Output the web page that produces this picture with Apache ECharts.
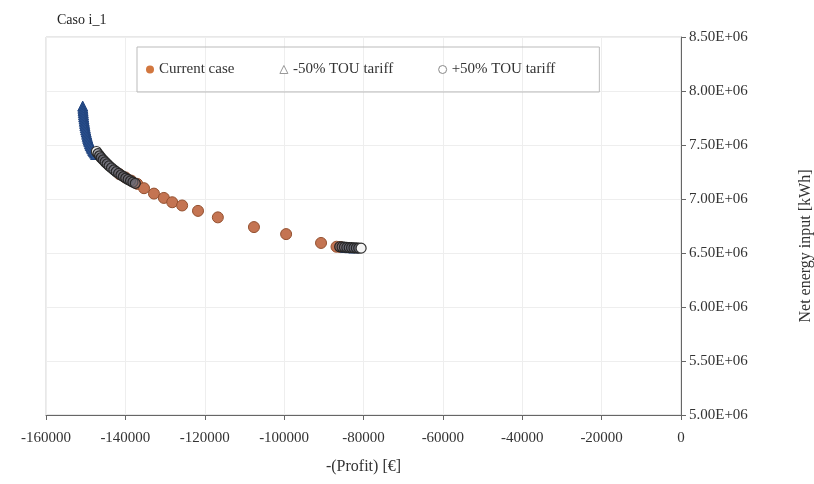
<!DOCTYPE html>
<html>
<head>
<meta charset="utf-8">
<script src="https://cdn.jsdelivr.net/npm/echarts@6/dist/echarts.min.js"></script>
<style>html,body{margin:0;padding:0;background:#fff;}#c{width:814px;height:484px;}</style>
</head>
<body>
<div id="c"></div>
<script>
// x: -(Profit) [€], y: Net energy input [kWh]
var currentX = [-141500, -140000, -138500, -137000, -135300, -132800, -130300, -128200, -125700, -121700, -116700, -107600, -99500, -90700, -86800, -85800];
var currentY = [7230000, 7200000, 7170000, 7140000, 7100000, 7050000, 7010000, 6970000, 6940000, 6890000, 6830000, 6740000, 6675000, 6593000, 6558000, 6555000];

var minus50X = [-150750, -150700, -150650, -150600, -150550, -150500, -150420, -150350, -150270, -150200, -150100, -150000, -149880, -149750, -149620, -149500, -149350, -149200, -149020, -148850, -148650, -148450, -148220, -148000, -147750, -147500, -84500, -83500, -82500];
var minus50Y = [7860000, 7840000, 7820000, 7800000, 7780000, 7760000, 7740000, 7720000, 7700000, 7680000, 7660000, 7640000, 7620000, 7600000, 7580000, 7562000, 7545000, 7528000, 7510000, 7495000, 7480000, 7465000, 7450000, 7438000, 7425000, 7412000, 6552000, 6549000, 6547000];

var plus50X = [-147300, -146900, -146500, -146100, -145600, -145100, -144600, -144100, -143500, -142900, -142300, -141700, -141100, -140500, -139900, -139300, -138700, -138100, -137500, -86000, -85400, -84800, -84200, -83600, -83000, -82400, -81800, -81200, -80600];
var plus50Y = [7440000, 7420000, 7400000, 7382000, 7362000, 7343000, 7325000, 7307000, 7288000, 7270000, 7253000, 7237000, 7222000, 7208000, 7194000, 7181000, 7168000, 7156000, 7145000, 6558000, 6556000, 6554000, 6552000, 6550000, 6549000, 6548000, 6547000, 6546000, 6545000];

var seriesNames = ['Current case', '-50% TOU tariff', '+50% TOU tariff'];
var xTicks = {min: -160000, max: 0, step: 20000};
var yTicks = {min: 5000000, max: 8500000, step: 500000};

function pairs(xs, ys) { return xs.map(function (x, i) { return [x, ys[i]]; }); }

var font = 'Liberation Serif';
var plusData = pairs(plus50X, plus50Y).map(function (p, i, arr) {
  if (i === 0 || i === arr.length - 1) {
    return {value: p, itemStyle: {color: '#f4f4f4', borderColor: '#333'}};
  }
  return p;
});

var chart = echarts.init(document.getElementById('c'));
chart.setOption({
  animation: false,
  backgroundColor: '#fff',
  title: {
    text: 'Caso i_1', left: 52, top: 8,
    textStyle: {fontFamily: font, fontSize: 14, fontWeight: 'normal', color: '#222'}
  },
  grid: {left: 46, right: 133, top: 37, bottom: 69, show: true, borderColor: '#d0d0d0', borderWidth: 1,
    containLabel: false, outerBoundsMode: 'none'},
  legend: {
    left: 137, top: 47,
    padding: [15, 44, 15, 9],
    itemGap: 45,
    itemWidth: 8, itemHeight: 8,
    borderColor: '#bbb', borderWidth: 1,
    textStyle: {fontFamily: font, fontSize: 15, color: '#333'},
    data: [
      {name: seriesNames[0], icon: 'circle', itemStyle: {color: '#D2773F', borderWidth: 0}},
      {name: seriesNames[1], icon: 'triangle', itemStyle: {color: '#fff', borderColor: '#999', borderWidth: 1}},
      {name: seriesNames[2], icon: 'circle', itemStyle: {color: '#fff', borderColor: '#888', borderWidth: 1}}
    ]
  },
  xAxis: {
    type: 'value', min: xTicks.min, max: xTicks.max, interval: xTicks.step,
    name: '-(Profit) [€]', nameLocation: 'middle', nameGap: 44,
    nameTextStyle: {fontFamily: font, fontSize: 16, color: '#333'},
    axisLine: {show: true, lineStyle: {color: '#666'}},
    axisTick: {show: true, length: 5, lineStyle: {color: '#666'}},
    axisLabel: {fontFamily: font, fontSize: 15, color: '#333', margin: 16,
      formatter: function (v) { return String(v); }},
    splitLine: {show: true, lineStyle: {color: '#eeeeee'}}
  },
  yAxis: {
    type: 'value', position: 'right', min: yTicks.min, max: yTicks.max, interval: yTicks.step,
    name: 'Net energy input [kWh]', nameLocation: 'middle', nameGap: 117, nameRotate: 90,
    nameTextStyle: {fontFamily: font, fontSize: 16, color: '#333', padding: [0, 40, 0, 0]},
    axisLine: {show: true, onZero: false, lineStyle: {color: '#666'}},
    axisTick: {show: true, length: 5, lineStyle: {color: '#666'}},
    axisLabel: {fontFamily: font, fontSize: 15, color: '#333', margin: 8,
      formatter: function (v) { return (v / 1e6).toFixed(2) + 'E+06'; }},
    splitLine: {show: true, lineStyle: {color: '#eeeeee'}}
  },
  series: [
    {
      name: seriesNames[0], type: 'scatter', symbol: 'circle', symbolSize: 11,
      itemStyle: {color: '#C47452', borderColor: '#94502F', borderWidth: 1, opacity: 1},
      data: pairs(currentX, currentY), z: 2
    },
    {
      name: seriesNames[1], type: 'scatter', symbol: 'triangle', symbolSize: 10,
      itemStyle: {color: '#2E5596', borderColor: '#22457F', borderWidth: 1, opacity: 1},
      data: pairs(minus50X, minus50Y), z: 3
    },
    {
      name: seriesNames[2], type: 'scatter', symbol: 'circle', symbolSize: 10,
      itemStyle: {color: 'rgba(110,110,120,0.55)', borderColor: '#262626', borderWidth: 1.2, opacity: 1},
      data: plusData, z: 4
    }
  ]
});
</script>
</body>
</html>
